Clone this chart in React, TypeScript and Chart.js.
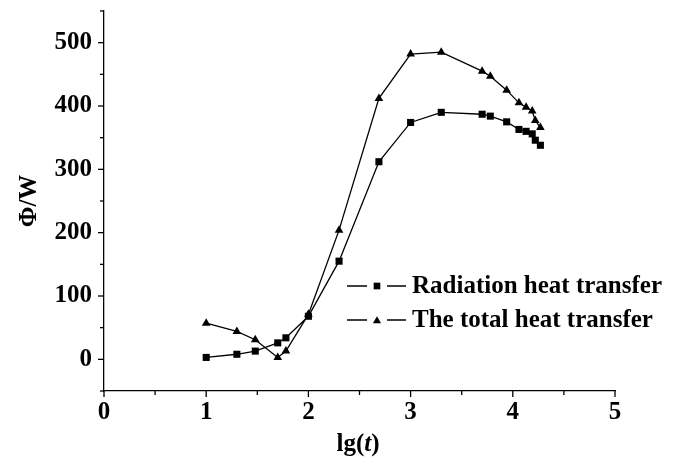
import React, { useEffect, useRef } from "react";
import { Chart, registerables } from "chart.js";

Chart.register(...registerables);

const lgT = [1, 1.3, 1.48, 1.7, 1.78, 2, 2.3, 2.69, 3, 3.3, 3.7, 3.78, 3.94, 4.06, 4.13, 4.19, 4.22, 4.27];
const radiation = [3, 8, 13, 26, 34, 68, 155, 312, 374, 390, 387, 384, 375, 363, 360, 356, 346, 338];
const total = [57, 44, 31, 3, 13, 71, 204, 412, 482, 485, 455, 447, 425, 405, 398, 392, 377, 366];
const seriesNames = ["Radiation heat transfer", "The total heat transfer"];
const xTickLabels = ["0", "1", "2", "3", "4", "5"];
const yTickLabels = ["0", "100", "200", "300", "400", "500"];

const SERIF = "'Liberation Serif', 'Times New Roman', serif";
const FS = 25;

function drawMarker(ctx: CanvasRenderingContext2D, style: string, x: number, y: number, r: number) {
  ctx.beginPath();
  if (style === "rect") {
    const s = Math.SQRT1_2 * r;
    ctx.rect(x - s, y - s, 2 * s, 2 * s);
  } else {
    const a = (2 * Math.PI) / 3;
    ctx.moveTo(x, y - r);
    ctx.lineTo(x + Math.sin(a) * r, y - Math.cos(a) * r);
    ctx.lineTo(x + Math.sin(2 * a) * r, y - Math.cos(2 * a) * r);
    ctx.closePath();
  }
  ctx.fill();
}

const customPlugin = {
  id: "customAxesLegend",
  afterDraw(chart: any) {
    const ctx: CanvasRenderingContext2D = chart.ctx;
    const xs = chart.scales.x;
    const ys = chart.scales.y;
    const area = chart.chartArea;
    ctx.save();
    ctx.strokeStyle = "#000";
    ctx.lineWidth = 1.3;
    // tick marks
    xs.ticks.forEach((t: any) => {
      const px = xs.getPixelForValue(t.value);
      const major = Math.abs(t.value - Math.round(t.value)) < 1e-6;
      ctx.beginPath();
      ctx.moveTo(px, area.bottom);
      ctx.lineTo(px, area.bottom + (major ? 6 : 4));
      ctx.stroke();
    });
    ys.ticks.forEach((t: any) => {
      const py = ys.getPixelForValue(t.value);
      const major = Math.abs(t.value % 100) < 1e-6;
      ctx.beginPath();
      ctx.moveTo(area.left, py);
      ctx.lineTo(area.left - (major ? 6 : 4), py);
      ctx.stroke();
    });
    // x axis title lg(t)
    ctx.fillStyle = "#000";
    ctx.textBaseline = "alphabetic";
    ctx.textAlign = "left";
    const parts = [
      { t: "lg(", f: `bold ${FS}px ${SERIF}` },
      { t: "t", f: `italic bold ${FS}px ${SERIF}` },
      { t: ")", f: `bold ${FS}px ${SERIF}` },
    ];
    let w = 0;
    parts.forEach((p) => {
      ctx.font = p.f;
      w += ctx.measureText(p.t).width;
    });
    let cx = (area.left + area.right) / 2 - 1.5 - w / 2;
    const baseY = 451;
    parts.forEach((p) => {
      ctx.font = p.f;
      ctx.fillText(p.t, cx, baseY);
      cx += ctx.measureText(p.t).width;
    });
    // legend
    const styles = ["rect", "triangle"];
    const rows = [286, 320];
    ctx.font = `bold ${FS}px ${SERIF}`;
    ctx.textBaseline = "middle";
    seriesNames.forEach((name, i) => {
      const y = rows[i];
      ctx.lineWidth = 1.3;
      ctx.beginPath();
      ctx.moveTo(347, y);
      ctx.lineTo(367, y);
      ctx.moveTo(387, y);
      ctx.lineTo(406, y);
      ctx.stroke();
      drawMarker(ctx, styles[i], 377, styles[i] === "rect" ? y : y + 1, 4.7);
      ctx.fillText(name, 412, y + 1);
    });
    ctx.restore();
  },
};

export default function App() {
  const ref = useRef<HTMLCanvasElement>(null);
  useEffect(() => {
    if (!ref.current) return;
    const chart = new Chart(ref.current, {
      type: "line",
      data: {
        datasets: [
          {
            label: seriesNames[0],
            data: lgT.map((x, i) => ({ x, y: radiation[i] })),
            borderColor: "#000",
            backgroundColor: "#000",
            borderWidth: 1.3,
            pointStyle: "rect",
            pointRadius: 5,
            pointBorderWidth: 0,
            pointBackgroundColor: "#000",
            tension: 0,
          },
          {
            label: seriesNames[1],
            data: lgT.map((x, i) => ({ x, y: total[i] })),
            borderColor: "#000",
            backgroundColor: "#000",
            borderWidth: 1.3,
            pointStyle: "triangle",
            pointRadius: 5,
            pointBorderWidth: 0,
            pointBackgroundColor: "#000",
            tension: 0,
          },
        ],
      },
      options: {
        animation: false,
        responsive: false,
        devicePixelRatio: 1,
        layout: { padding: { top: 11, right: 71, left: 0, bottom: 0 } },
        plugins: { legend: { display: false }, tooltip: { enabled: false } },
        scales: {
          x: {
            type: "linear",
            min: 0,
            max: 5,
            grid: { display: false, drawTicks: false },
            border: { display: true, color: "#000", width: 1.3 },
            ticks: {
              stepSize: 0.5,
              autoSkip: false,
              maxRotation: 0,
              padding: 7,
              color: "#000",
              font: { family: SERIF, size: FS, weight: "bold" },
              callback: (v: any) => {
                const i = xTickLabels.indexOf(String(v));
                return i >= 0 ? xTickLabels[i] : "";
              },
            },
            afterFit: (s: any) => {
              s.height = 68;
              s.paddingLeft = 0;
              s.paddingRight = 0;
            },
          },
          y: {
            type: "linear",
            min: -50,
            max: 550,
            grid: { display: false, drawTicks: false },
            border: { display: true, color: "#000", width: 1.3 },
            title: {
              display: true,
              text: "Φ/W",
              color: "#000",
              font: { family: SERIF, size: FS, weight: "bold" },
              padding: { top: 15, bottom: 0 },
            },
            ticks: {
              stepSize: 50,
              autoSkip: false,
              padding: 12,
              color: "#000",
              font: { family: SERIF, size: FS, weight: "bold" },
              callback: (v: any) => {
                const i = yTickLabels.indexOf(String(v));
                return i >= 0 ? yTickLabels[i] : "";
              },
            },
            afterFit: (s: any) => {
              s.width = 104;
              s.paddingTop = 0;
              s.paddingBottom = 0;
            },
          },
        },
      },
      plugins: [customPlugin],
    });
    return () => chart.destroy();
  }, []);
  return (
    <div style={{ position: "absolute", left: 0, top: 0, width: 686, height: 459, background: "#fff" }}>
      <canvas ref={ref} width={686} height={459} />
    </div>
  );
}
